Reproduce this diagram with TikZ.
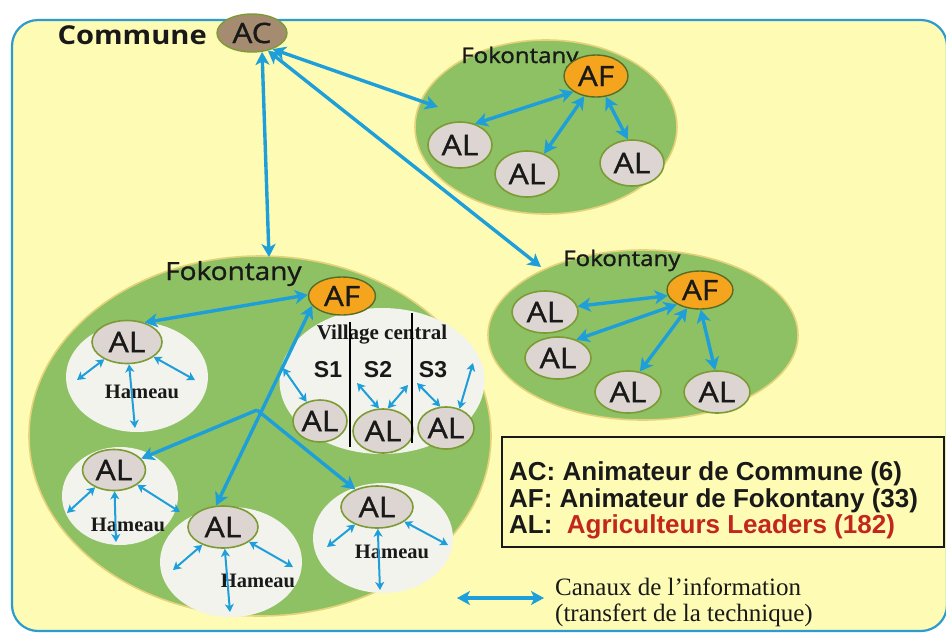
\documentclass[tikz,border=0pt]{standalone}
\usepackage{fontspec}
\setmainfont{Open Sans}
\newfontfamily\hum[FakeStretch=1.12]{Open Sans}
\newfontfamily\humm[FakeStretch=1.12,FakeBold=1.2]{Open Sans}
\newfontfamily\ari{Liberation Sans}
\newfontfamily\tim{Liberation Serif}
\usetikzlibrary{shapes.geometric,arrows.meta}
\definecolor{bgyel}{HTML}{FDFBB4}
\definecolor{frame}{HTML}{2C9BD0}
\definecolor{grn}{HTML}{8DC163}
\definecolor{grnedge}{HTML}{E6D27A}
\definecolor{wht}{HTML}{F3F3EE}
\definecolor{algray}{HTML}{DDD5D2}
\definecolor{aledge}{HTML}{7D9B35}
\definecolor{afor}{HTML}{F4A51D}
\definecolor{acbr}{HTML}{A58C70}
\definecolor{arrblue}{HTML}{1E9FDA}
\definecolor{legred}{HTML}{C3261C}
\newcommand\myfs[1]{\fontsize{#1}{#1}\selectfont}
\tikzset{
  fk/.style={ellipse, fill=grn, draw=grnedge, line width=1.6pt, inner sep=0pt},
  hm/.style={ellipse, fill=wht, draw=none, inner sep=0pt},
  al/.style={ellipse, fill=algray, draw=aledge, line width=1.6pt, inner sep=0pt,
     minimum width=64pt, minimum height=44pt, font=\humm\myfs{28.5}, text=black!90},
  afn/.style={ellipse, fill=afor, draw=aledge!70!black, line width=1.4pt, inner sep=0pt,
     minimum width=65pt, minimum height=40pt, font=\humm\myfs{28}, text=black!90},
  fklabel/.style={anchor=base west, inner sep=0pt, text=black!90},
  hlabel/.style={inner sep=0pt, font=\tim\bfseries\myfs{20.5}, text=black!90},
  slabel/.style={inner sep=0pt, font=\ari\bfseries\myfs{23}, text=black!90},
  arr/.style={draw=arrblue, line width=3.4pt,
     {Stealth[length=13pt,width=14pt,inset=3.5pt]}-{Stealth[length=13pt,width=14pt,inset=3.5pt]}},
  onearr/.style={draw=arrblue, line width=3.4pt, -{Stealth[length=13pt,width=14pt,inset=3.5pt]}},
  sarr/.style={draw=arrblue, line width=2pt,
     {Stealth[length=8pt,width=9pt,inset=2.2pt]}-{Stealth[length=8pt,width=9pt,inset=2.2pt]}},
  legline/.style={anchor=base west, inner sep=0pt, font=\ari\bfseries\myfs{26}, text=black!90},
}
\begin{document}
\begin{tikzpicture}[x=1pt,y=-1pt]
\useasboundingbox (0,0) rectangle (946,633);
\fill[white] (0,0) rectangle (946,633);
\draw[draw=frame, line width=2.2pt, fill=bgyel, rounded corners=26pt] (12,20) rectangle (947,631);

% Commune
\node[anchor=base east, inner sep=0pt, font=\hum\bfseries\myfs{26}, text=black!90] (commune) at (207,44) {Commune};
\node[ellipse, fill=acbr, draw=aledge, line width=1.4pt, inner sep=0pt, minimum width=70pt, minimum height=38pt,
      font=\humm\myfs{28}, text=black!90] (AC) at (252,33) {AC};

% ---------- Top Fokontany ----------
\node[fk, minimum width=262pt, minimum height=174pt] (FK1) at (546,127) {};
\node[fklabel, font=\humm\myfs{21.5}] (FK1l) at (461,63) {Fokontany};
\node[afn, minimum width=64pt, minimum height=42pt] (AF1) at (596,76) {AF};
\node[al, minimum height=46pt] (A1a) at (460,145) {AL};
\node[al, minimum height=46pt] (A1b) at (527,174) {AL};
\node[al, minimum height=46pt] (A1c) at (632,163) {AL};
\draw[arr] (A1a.55) -- (AF1.215);
\draw[arr] (A1b.50) -- (AF1.240);
\draw[arr] (A1c.100) -- (AF1.-65);

% ---------- Right Fokontany ----------
\node[fk, minimum width=310pt, minimum height=170pt] (FK2) at (643,335) {};
\node[fklabel, font=\humm\myfs{21.5}] (FK2l) at (563,266) {Fokontany};
\node[afn, minimum width=66pt, minimum height=38pt] (AF2) at (700,290) {AF};
\node[al, minimum width=66pt, minimum height=42pt] (A2a) at (545,312) {AL};
\node[al, minimum width=66pt, minimum height=42pt] (A2b) at (558,358) {AL};
\node[al, minimum width=66pt, minimum height=42pt] (A2c) at (628,392) {AL};
\node[al, minimum width=66pt, minimum height=42pt] (A2d) at (717,392) {AL};
\draw[arr] (A2a.10) -- (AF2.190);
\draw[arr] (A2b.45) -- (AF2.212);
\draw[arr] (A2c.60) -- (AF2.235);
\draw[arr] (A2d.95) -- (AF2.-88);

% ---------- Big Fokontany ----------
\node[fk, minimum width=462pt, minimum height=360pt] (FK3) at (260,436) {};
\node[fklabel, font=\humm\myfs{25}] (FK3l) at (165,280) {Fokontany};
\node[hm, minimum width=142pt, minimum height=110pt] (H1) at (137,377) {};
\node[hm, minimum width=205pt, minimum height=146pt] (VC) at (382,381) {};
\node[hm, minimum width=116pt, minimum height=98pt] (H2) at (120,496) {};
\node[hm, minimum width=142pt, minimum height=110pt] (H3) at (231,562) {};
\node[hm, minimum width=140pt, minimum height=110pt] (H4) at (383,538) {};

\node[hlabel] (H1l) at (142,392) {Hameau};
\node[hlabel] (H2l) at (128,525) {Hameau};
\node[hlabel] (H3l) at (258,581) {Hameau};
\node[hlabel] (H4l) at (392,552) {Hameau};
\node[hlabel, font=\tim\bfseries\myfs{21}] (VCl) at (382,335) {Village central};
\node[slabel] (S1) at (328,370) {S1};
\node[slabel] (S2) at (378,370) {S2};
\node[slabel] (S3) at (433,370) {S3};

\node[afn, minimum width=67pt, minimum height=38pt] (AF3) at (342,296) {AF};
\node[al, minimum width=70pt, minimum height=43pt] (H1A) at (127,342) {AL};
\node[al, minimum width=63pt, minimum height=41pt] (H2A) at (114,470) {AL};
\node[al, minimum width=70pt, minimum height=42pt] (H3A) at (223,527) {AL};
\node[al, minimum width=72pt, minimum height=42pt] (H4A) at (377,507) {AL};
\node[al, minimum width=54pt, minimum height=42pt] (V1) at (320,421) {AL};
\node[al, minimum width=60pt, minimum height=44pt] (V2) at (383,431) {AL};
\node[al, minimum width=56pt, minimum height=42pt] (V3) at (446,428) {AL};

% village separators
\draw[black, line width=2.4pt] (350,322) -- (350,447);
\draw[black, line width=2.4pt] (412,313) -- (412,443);

% main links in big Fokontany
\coordinate (hub) at (257,410);
\draw[arr] (H1A.48) -- (AF3.178);
\draw[arr] (AF3.198) -- (H3A.108);
\draw[onearr] (hub) -- (H2A);
\draw[onearr] (hub) -- (H4A);

% small arrows in hameaux
\coordinate (h1a) at (77,380); \coordinate (h1b) at (135,428); \coordinate (h1c) at (195,380);
\draw[sarr] (H1A) -- (h1a); \draw[sarr] (H1A) -- (h1b); \draw[sarr] (H1A) -- (h1c);
\coordinate (h2a) at (67,513); \coordinate (h2b) at (116,542); \coordinate (h2c) at (180,512);
\draw[sarr] (H2A) -- (h2a); \draw[sarr] (H2A) -- (h2b); \draw[sarr] (H2A) -- (h2c);
\coordinate (h3a) at (173,570); \coordinate (h3b) at (230,612); \coordinate (h3c) at (293,567);
\draw[sarr] (H3A) -- (h3a); \draw[sarr] (H3A) -- (h3b); \draw[sarr] (H3A) -- (h3c);
\coordinate (h4a) at (327,547); \coordinate (h4b) at (380,590); \coordinate (h4c) at (448,545);
\draw[sarr] (H4A) -- (h4a); \draw[sarr] (H4A) -- (h4b); \draw[sarr] (H4A) -- (h4c);

% small arrows in village
\coordinate (v1a) at (283,368);
\coordinate (v2a) at (357,383); \coordinate (v2b) at (408,385);
\coordinate (v3a) at (417,383); \coordinate (v3b) at (473,363);
\draw[sarr] (v1a) -- (V1.125);
\draw[sarr] (v2a) -- (V2.100);
\draw[sarr] (V2.78) -- (v2b);
\draw[sarr] (v3a) -- (V3.105);
\draw[sarr] (V3.55) -- (v3b);

% ---------- Commune links ----------
\coordinate (fk1in) at (438,107);
\coordinate (fk2in) at (541,267);
\coordinate (fk3in) at (269,257);
\draw[arr] (AC.-38) -- (fk1in);
\draw[arr] (AC.-48) -- (fk2in);
\draw[arr] (AC.-62) -- (fk3in);

% ---------- Legend ----------
\node[draw=black!90, line width=2pt, fill=bgyel, minimum width=442pt, minimum height=110pt, inner sep=0pt] (leg) at (723,492) {};
\node[legline] (l1) at (509,480) {AC: Animateur de Commune (6)};
\node[legline] (l2) at (509,507) {AF: Animateur de Fokontany (33)};
\node[legline] (l3) at (509,533) {AL:\ \ \textcolor{legred}{Agriculteurs Leaders (182)}};

\coordinate (ka) at (457,598); \coordinate (kb) at (544,598);
\draw[arr] (ka) -- (kb);
\node[anchor=base west, inner sep=0pt, font=\tim\myfs{25}, text=black!90] (c1) at (555,595) {Canaux de l’information};
\node[anchor=base west, inner sep=0pt, font=\tim\myfs{25}, text=black!90] (c2) at (555,621) {(transfert de la technique)};
\end{tikzpicture}
\end{document}
